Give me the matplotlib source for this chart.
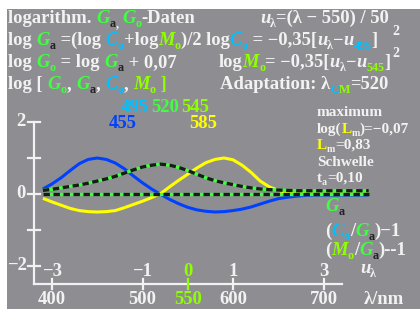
import matplotlib
matplotlib.use('Agg')
import matplotlib.pyplot as plt
import matplotlib.patches as patches

# wavelengths (nm) and log values
lam = [390, 400, 410, 420, 430, 440, 450, 460, 470, 480, 490, 500, 510, 520,
       530, 540, 550, 560, 570, 580, 590, 600, 610, 620, 630, 640, 650, 660,
       670, 680, 690, 700, 710, 720, 730, 740, 750]
blue_455 = [0.14, 0.28, 0.45, 0.65, 0.84, 0.96, 1.00, 0.96, 0.86, 0.70, 0.50, 0.31, 0.14, -0.01,
            -0.15, -0.27, -0.37, -0.44, -0.48, -0.50, -0.49, -0.46, -0.42, -0.36, -0.28, -0.20, -0.13, -0.09,
            -0.06, -0.04, -0.03, -0.03, -0.03, -0.03, -0.03, -0.03, -0.03]
yellow_585 = [-0.12, -0.22, -0.31, -0.40, -0.46, -0.49, -0.50, -0.49, -0.46, -0.38, -0.29, -0.20, -0.10, 0.01,
              0.20, 0.38, 0.55, 0.72, 0.87, 0.96, 1.00, 0.95, 0.80, 0.60, 0.36, 0.20, 0.10, 0.04,
              0.02, 0.01, 0.0, 0.0, 0.0, 0.0, 0.0, 0.0, 0.0]
green_upper = [0.10, 0.13, 0.17, 0.21, 0.25, 0.30, 0.36, 0.42, 0.49, 0.58, 0.67, 0.75, 0.80, 0.83,
               0.80, 0.74, 0.65, 0.55, 0.45, 0.37, 0.31, 0.26, 0.21, 0.17, 0.14, 0.12, 0.11, 0.10,
               0.09, 0.09, 0.09, 0.09, 0.09, 0.09, 0.09, 0.09, 0.09]
green_flat = [0.0] * len(lam)

x_ticks = [400, 500, 550, 600, 700]
x_labels = ['400', '500', '550', '600', '700']
u_labels = ['\u22123', '\u22121', '0', '1', '3']
y_ticks = [2, 1, 0, -1, -2]

W = '#f2f2f2'
G = '#40ff40'
C = '#00c0ff'
M = '#90ff00'
K = '#222222'
Y = '#ffff00'
B = '#0040ff'
BG = '#8e8e92'
FONT = 'Liberation Serif'

plt.rcParams['lines.scale_dashes'] = False

fig = plt.figure(figsize=(4.2, 3.09), dpi=100)
fig.patch.set_facecolor('white')

# pixel-coordinate layer for background and text
px = fig.add_axes([0, 0, 1, 1], zorder=0)
px.set_xlim(0, 420)
px.set_ylim(309, 0)
px.axis('off')
px.add_patch(patches.Rectangle((7, 9), 413, 300, color=BG, lw=0))

renderer = fig.canvas.get_renderer()


def width_of(s, size, style):
    t1 = px.text(0, 0, s + '|', fontsize=size, fontstyle=style, fontweight='bold', family=FONT)
    t2 = px.text(0, 0, '|', fontsize=size, fontstyle=style, fontweight='bold', family=FONT)
    w = t1.get_window_extent(renderer).width - t2.get_window_extent(renderer).width
    t1.remove()
    t2.remove()
    return w


def rich(x, y, parts, size=13.4):
    for p in parts:
        txt, col = p[0], p[1]
        kind = p[2] if len(p) > 2 else ''
        fs, dy, style = size, 0, 'normal'
        if 'sub' in kind:
            fs, dy = size * 0.65, size * 0.3
        if 'i' in kind.replace('sub', ''):
            style = 'italic'
        px.text(x, y + dy, txt, color=col, fontsize=fs, fontstyle=style,
                fontweight='bold', family=FONT, va='baseline', ha='left')
        x += width_of(txt, fs, style)
    return x


rich(8, 23, [('logarithm. ', W), ('G', G, 'i'), ('a', K, 'sub'), (', ', W, 'sub'),
             ('G', G, 'i'), ('o', G, 'sub'), ('-Daten', W)])
rich(260, 23, [('u', W, 'i'), ('\u03bb', W, 'sub'), ('=(\u03bb \u2212 550) / 50', W)])
end2 = rich(8, 45, [('log ', W), ('G', G, 'i'), ('a', K, 'sub'), (' =(log ', W), ('C', C, 'i'), ('o', C, 'sub'),
                    ('+log', W), ('M', M, 'i'), ('o', M, 'sub'), (')/2 log', W), ('C', C, 'i'), ('o', C, 'sub'),
                    (' = \u22120,35[', W), ('u', W, 'i'), ('\u03bb', W, 'sub'), ('\u2212', W), ('u', W, 'i'),
                    ('495', C, 'sub'), (']', W)], size=13.3)
rich(8, 67, [('log ', W), ('G', G, 'i'), ('o', G, 'sub'), (' = log ', W), ('G', G, 'i'), ('a', K, 'sub'),
             (' + 0,07', W)])
end3 = rich(219, 67, [('log', W), ('M', M, 'i'), ('o', M, 'sub'), ('= \u22120,35[', W), ('u', W, 'i'),
                      ('\u03bb', W, 'sub'), ('\u2212', W), ('u', W, 'i'), ('545', M, 'sub'), (']', W)], size=13.3)
rich(8, 89, [('log [ ', W), ('G', G, 'i'), ('o', G, 'sub'), (', ', W), ('G', G, 'i'), ('a', K, 'sub'),
             (', ', W), ('C', C, 'i'), ('o', C, 'sub'), (', ', W), ('M', M, 'i'), ('o', M, 'sub'), (' ]', M)])
rich(220, 89, [('Adaptation: \u03bb', W), ('C', C, 'sub'), ('M', M, 'sub'), ('=520', W)])
sx = max(end2, end3) + 2
px.text(sx, 35, '2', color=W, fontsize=10, fontweight='bold', family=FONT)
px.text(sx, 57, '2', color=W, fontsize=10, fontweight='bold', family=FONT)

# right-hand notes
rich(317, 116, [('maximum', W)], size=11)
rich(317, 133, [('log(', W), ('L', Y), ('m', W, 'sub'), (')=\u22120,07', W)], size=11)
rich(317, 149, [('L', Y), ('m', W, 'sub'), ('=0,83', W)], size=11)
rich(317, 166, [('Schwelle', W)], size=11)
rich(317, 182, [('t', W), ('a', W, 'sub'), ('=0,10', W)], size=11)
rich(325, 211, [('G', G, 'i'), ('a', K, 'sub')])
rich(325, 236, [('(', W), ('C', C, 'i'), ('o', C, 'sub'), ('/', W), ('G', G, 'i'), ('a', K, 'sub'), (')\u22121', W)])
rich(325, 255, [('(', W), ('M', M, 'i'), ('o', M, 'sub'), ('/', W), ('G', G, 'i'), ('a', K, 'sub'), (')--1', W)])
rich(360, 273, [('u', W, 'i'), ('\u03bb', W, 'sub')])

# curve labels
for txt, col, xx, yy in [('455', B, 123, 123), ('495', C, 135, 108), ('520', G, 165, 108),
                         ('545', M, 195, 108), ('585', Y, 203, 123)]:
    px.text(xx, yy, txt, color=col, fontsize=13.4, fontweight='bold', family=FONT,
            ha='center', va='center')

# data layer: lambda -> px = 52 + (lam-400)*0.905 ; value -> px = 194 - 36*v
ax = fig.add_axes([0, 0, 1, 1], zorder=1)
ax.patch.set_alpha(0)
ax.set_xlim(400 - 52 / 0.905, 400 + 368 / 0.905)
ax.set_ylim(-115 / 36, 194 / 36)
ax.axis('off')

ax.plot(lam, blue_455, color=B, lw=2.2, solid_capstyle='butt')
ax.plot(lam, yellow_585, color=Y, lw=2.2, solid_capstyle='butt')
for vals in [green_upper, green_flat]:
    ax.plot(lam, vals, color=G, lw=2.4, solid_capstyle='butt')
    ax.plot(lam, vals, color='#1a1a1a', lw=2.4, dashes=(4.6, 2.6), dash_capstyle='butt')

# axes drawn by hand in white
x0 = 400 - 18 / 0.905
y_axis = -90 / 36
ax.plot([x0, x0], [2, y_axis], color=W, lw=1.6, clip_on=False)
ax.plot([x0, 400 + 290 / 0.905], [y_axis, y_axis], color=W, lw=1.6)
for v in y_ticks:
    ax.plot([x0 - 6 / 0.905, x0 + 6 / 0.905], [v, v], color=W, lw=1.6)
for t, lab, ul in zip(x_ticks, x_labels, u_labels):
    col = M if t == 550 else W
    ax.plot([t, t], [y_axis + 5 / 36, y_axis - 5 / 36], color=col, lw=1.6)
    ax.text(t, -106 / 36, lab, color=col, fontsize=13.4, fontweight='bold', family=FONT,
            ha='center', va='center')
    ax.text(t, -78 / 36, ul, color=col, fontsize=13.4, fontweight='bold', family=FONT,
            ha='center', va='center')
ax.text(400 + 332 / 0.905, -106 / 36, '\u03bb/nm', color=W, fontsize=13.4, fontweight='bold',
        family=FONT, ha='center', va='center')
for v, lab, xp in [(2, '2', 21), (0, '0', 21), (-2, '\u22122', 17)]:
    ax.text(400 + (xp - 52) / 0.905, v, lab, color=W, fontsize=13.4, fontweight='bold',
            family=FONT, ha='center', va='center')

fig.savefig('out.png', dpi=100)
plt.close(fig)
